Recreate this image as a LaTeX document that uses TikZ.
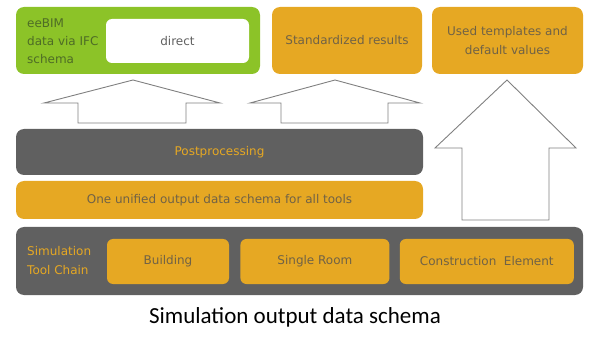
\documentclass[tikz,border=0pt]{standalone}
\usepackage{fontspec}
\setmainfont{Carlito}
\newfontfamily\boxfont{DejaVu Sans}
\usetikzlibrary{positioning}

\definecolor{limegreen}{RGB}{140,195,40}
\definecolor{ochre}{RGB}{230,168,35}
\definecolor{slate}{RGB}{96,96,96}
\definecolor{greentext}{RGB}{78,108,38}
\definecolor{boxtext}{RGB}{112,98,70}
\definecolor{arrowline}{RGB}{128,128,128}

\begin{document}
\begin{tikzpicture}[x=1pt, y=1pt,
    every node/.style={font=\boxfont\fontsize{12}{14}\selectfont, inner sep=0pt},
    block/.style={rectangle, rounded corners=8pt, align=center},
    inner/.style={rectangle, rounded corners=6pt, fill=ochre, text=boxtext,
                  minimum height=45pt},
    uparrow/.style={draw=arrowline, line width=0.9pt, fill=white, line join=miter}]
\useasboundingbox (0,0) rectangle (590,338);

% top row
\node[block, fill=limegreen, minimum width=244pt, minimum height=67pt] (ifc) at (138,297.5) {};
\node[inner, fill=white, text=slate, minimum width=143pt, minimum height=44pt] (direct) at (177.5,297) {direct};
\node[anchor=west, align=left, text=greentext, font=\boxfont\fontsize{12}{18}\selectfont] (ifclabel) at (27,296.5) {eeBIM\\data via IFC\\schema};
\node[block, fill=ochre, text=boxtext, minimum width=150pt, minimum height=67pt] (results) at (347,297.5) {Standardized results};
\node[block, fill=ochre, text=boxtext, minimum width=151pt, minimum height=67pt,
      font=\boxfont\fontsize{12}{19}\selectfont] (templates) at (507.5,297.5) {Used templates and\\default values};

% middle
\node[block, fill=slate, text=ochre, minimum width=407pt, minimum height=46pt] (post) at (219.5,186) {Postprocessing};
\node[block, fill=ochre, text=boxtext, minimum width=407pt, minimum height=38pt] (unified) at (219.5,138) {One unified output data schema for all tools};

% tool chain
\node[block, fill=slate, minimum width=567pt, minimum height=68pt] (chain) at (299.5,77) {};
\node[anchor=west, align=left, text=ochre, font=\boxfont\fontsize{12}{19}\selectfont] (chainlabel) at (27,77) {Simulation\\Tool Chain};
\node[inner, minimum width=122pt] (building) at (168,76.5) {Building};
\node[inner, minimum width=149pt, right=11pt of building] (room) {Single Room};
\node[inner, minimum width=174pt, right=10pt of room] (element) {Construction~~Element};

% arrows
\draw[uparrow] (78,215) -- (78,235) -- (44,235) -- (133,258) -- (220,235) -- (186,235) -- (186,215) -- cycle;
\draw[uparrow] (281,215) -- (281,235) -- (250,235) -- (335,258) -- (420,235) -- (388,235) -- (388,215) -- cycle;
\draw[uparrow] (462,118) -- (462,190) -- (435,190) -- (507,258) -- (576,190) -- (549,190) -- (549,118) -- cycle;

\node[font=\fontsize{23}{27}\selectfont] (caption) at (295,21) {Simulation output data schema};
\end{tikzpicture}
\end{document}
